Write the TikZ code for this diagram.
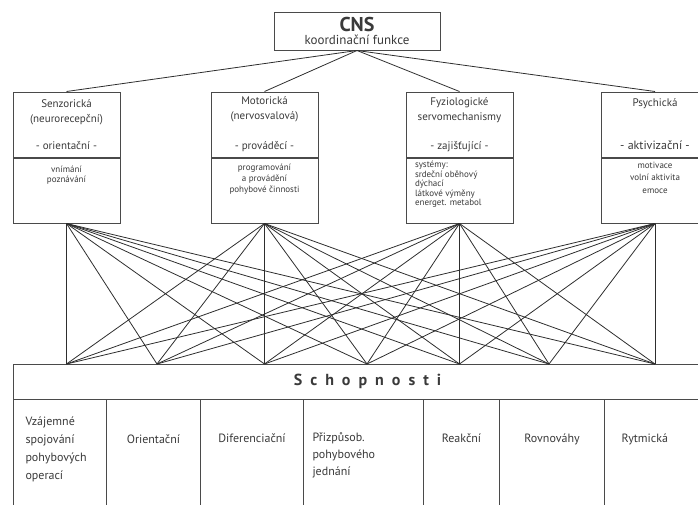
\documentclass[tikz,border=0pt]{standalone}
\usepackage{fontspec}
\setmainfont{PT Sans}
\usetikzlibrary{positioning}
\definecolor{SkInk}{HTML}{3A3A3A}
\definecolor{SkLine}{HTML}{2E2E2E}
\definecolor{SkFrame}{HTML}{4A4A4A}
\tikzset{
  skbox/.style={
    rectangle,
    draw=SkFrame,
    line width=1pt,
    fill=white,
    inner sep=0pt,
    text=SkInk
  },
  cnsbox/.style={skbox,align=center,minimum width=166pt,minimum height=38pt},
  headbox/.style={skbox,align=center,minimum width=107pt,minimum height=65pt,
    font=\fontsize{11}{15}\selectfont},
  bodybox/.style={skbox,anchor=north,font=\fontsize{9}{10}\selectfont},
  capbox/.style={skbox,align=center,minimum height=35pt,
    font=\fontsize{16}{18}\selectfont\bfseries},
  colbox/.style={skbox,anchor=north west,font=\fontsize{12}{18}\selectfont},
  fanline/.style={draw=SkLine,line width=0.8pt},
}

\begin{document}
\begin{tikzpicture}[x=1pt,y=-1pt]
  \useasboundingbox (0,0) rectangle (698,504);
  \clip (0,0) rectangle (698,504);

  % top level
  \node[cnsbox] (cns) at (357,31)
    {\fontsize{20}{22}\selectfont\bfseries CNS\\[1pt]
     \fontsize{13}{15}\selectfont\mdseries koordinační funkce};

  % the four components
  \node[headbox] (senz) at (66.5,124.5) {Senzorická\\(neurorecepční)\\[12pt]- orientační -};
  \node[headbox] (mot) at (264.5,124.5) {Motorická\\(nervosvalová)\\[15pt]- prováděcí -};
  \node[headbox] (fyz) at (459.5,124.5) {Fyziologické\\servomechanismy\\[14pt]- zajišťující -};
  \node[headbox] (psy) at (655,124.5)
    {Psychická\\[28pt]{\fontsize{12}{15}\selectfont - aktivizační -}};

  \node[bodybox,below=0pt of senz] (senzB)
    {\parbox[t][65pt][t]{107pt}{\centering\vspace*{8pt}
     vnímání\\poznávání}};
  \node[bodybox,below=0pt of mot] (motB)
    {\parbox[t][65pt][t]{107pt}{\centering\vspace*{6pt}\baselineskip=11pt
     programování\\a provádění\\pohybové činnosti}};
  \node[bodybox,below=0pt of fyz] (fyzB)
    {\parbox[t][65pt][t]{107pt}{\raggedright\leftskip=9pt\vspace*{3pt}\baselineskip=9.6pt
     systémy:\\srdeční oběhový\\dýchací\\látkové výměny\\energet. metabol}};
  \node[bodybox,below=0pt of psy] (psyB)
    {\parbox[t][65pt][t]{107pt}{\centering\vspace*{4pt}\baselineskip=12.5pt
     motivace\\volní aktivita\\emoce}};

  % abilities
  \node[capbox,minimum width=709pt] (schop) at (367.5,381.5)
    {\addfontfeature{LetterSpace=50}Schopnosti};

  \node[colbox] (c1) at (13,399)
    {\parbox[t][121pt][t]{93pt}{\raggedright\leftskip=12pt\vspace*{17pt}
     Vzájemné\\spojování\\pohybových\\operací}};
  \node[colbox] (c2) at (106,399)
    {\parbox[t][121pt][t]{94pt}{\centering\vspace*{35pt}Orientační}};
  \node[colbox] (c3) at (200,399)
    {\parbox[t][121pt][t]{103pt}{\centering\vspace*{34pt}Diferenciační}};
  \node[colbox] (c4) at (303,399)
    {\parbox[t][121pt][t]{120pt}{\raggedright\leftskip=9pt\vspace*{33pt}\baselineskip=17pt
     Přizpůsob.\\pohybového\\jednání}};
  \node[colbox] (c5) at (423,399)
    {\parbox[t][121pt][t]{76pt}{\centering\vspace*{34pt}Reakční}};
  \node[colbox] (c6) at (499,399)
    {\parbox[t][121pt][t]{105pt}{\centering\vspace*{34pt}Rovnováhy}};
  \node[colbox] (c7) at (604,399)
    {\parbox[t][121pt][t]{118pt}{\raggedright\leftskip=17pt\vspace*{34pt}Rytmická}};

  % connectors
  \foreach \x [count=\i] in {66.5,157,264.5,367,459.5,549,655}
    \coordinate (t\i) at (\x,364);
  \foreach \dst in {senz,mot,fyz,psy}
    \draw[fanline] (cns.south) -- (\dst.north);
  \foreach \src in {senzB,motB,fyzB,psyB}
    \foreach \i in {1,...,7}
      \draw[fanline] (\src.south) -- (t\i);
\end{tikzpicture}
\end{document}
